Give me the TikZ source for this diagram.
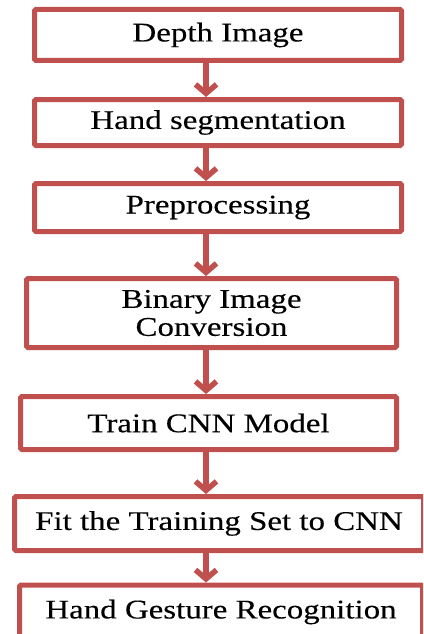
\documentclass[tikz,border=0pt]{standalone}
\usepackage{fontspec}
\setmainfont{Liberation Serif}[FakeStretch=1.22, FakeBold=0.25]
\usetikzlibrary{arrows.meta}
\definecolor{bred}{HTML}{C0504D}
\tikzstyle{blk}=[rectangle, draw=bred, line width=5pt, rounded corners=1.5pt, inner sep=0pt, align=center, font=\fontsize{27}{28}\selectfont]
\tikzstyle{flow}=[draw=bred, line width=5.5pt, -{Straight Barb[length=9pt, width=21pt]}]

\begin{document}
\begin{tikzpicture}[x=1pt, y=-1pt]
    \path[use as bounding box, clip] (0,0) rectangle (423,634);
    \node (img) [blk, minimum width=367, minimum height=51] at (218,35) {Depth Image};
    \node (seg) [blk, minimum width=367, minimum height=46] at (218,122.5) {Hand segmentation};
    \node (pre) [blk, minimum width=367, minimum height=48] at (218,207.5) {Preprocessing};
    \node (bin) [blk, minimum width=370, minimum height=69] at (211.5,313) {Binary Image\\Conversion};
    \node (cnn) [blk, minimum width=376, minimum height=53] at (208.5,423) {Train CNN Model};
    \node (fit) [blk, minimum width=409, minimum height=54] at (219,523.5) {Fit the Training Set to CNN};
    \node (rec) [blk, minimum width=403, minimum height=54] at (221,612) {Hand Gesture Recognition};

    % arrows all run down one vertical line
    \coordinate (ax) at (206,0);
    \draw[flow] (img.south -| ax) -- (seg.north -| ax);
    \draw[flow] (seg.south -| ax) -- (pre.north -| ax);
    \draw[flow] (pre.south -| ax) -- (bin.north -| ax);
    \draw[flow] (bin.south -| ax) -- (cnn.north -| ax);
    \draw[flow] (cnn.south -| ax) -- (fit.north -| ax);
    \draw[flow] (fit.south -| ax) -- (rec.north -| ax);
\end{tikzpicture}
\end{document}
